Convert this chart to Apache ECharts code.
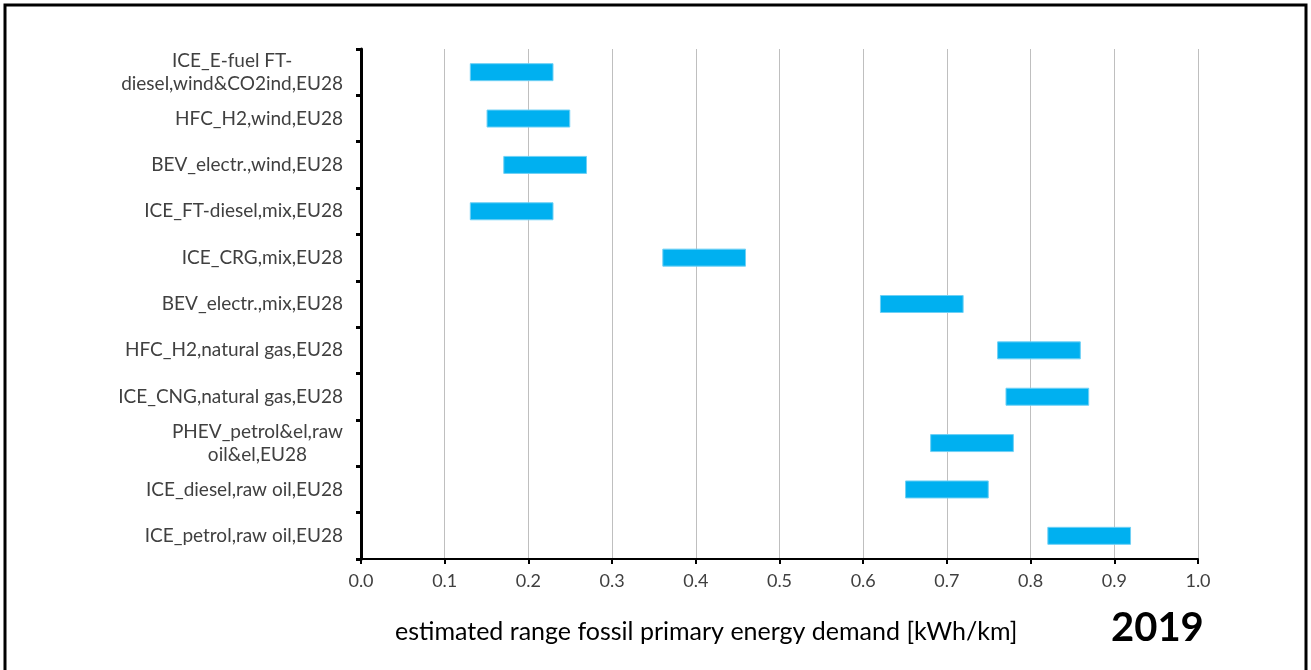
<!DOCTYPE html>
<html>
<head>
<meta charset="UTF-8">
<title>fossil primary energy demand 2019</title>
<script type="text/javascript" src="https://cdn.jsdelivr.net/npm/echarts@6/dist/echarts.min.js"></script>
<style>
  html,body{margin:0;padding:0;background:#fff}
</style>
</head>
<body>
	<div id="main" style="width:1311px;height:670px"></div>
	<script type="text/javascript">
	// categories, top to bottom
	var categories = [
		'ICE_E-fuel FT-\ndiesel,wind&CO2ind,EU28',
		'HFC_H2,wind,EU28',
		'BEV_electr.,wind,EU28',
		'ICE_FT-diesel,mix,EU28',
		'ICE_CRG,mix,EU28',
		'BEV_electr.,mix,EU28',
		'HFC_H2,natural gas,EU28',
		'ICE_CNG,natural gas,EU28',
		'PHEV_petrol&el,raw\noil&el,EU28',
		'ICE_diesel,raw oil,EU28',
		'ICE_petrol,raw oil,EU28'
	];
	// range low / high [kWh/km]
	var lowValues  = [0.13, 0.15, 0.17, 0.13, 0.36, 0.62, 0.76, 0.77, 0.68, 0.65, 0.82];
	var highValues = [0.23, 0.25, 0.27, 0.23, 0.46, 0.72, 0.86, 0.87, 0.78, 0.75, 0.92];
	var xTicks = ['0.0','0.1','0.2','0.3','0.4','0.5','0.6','0.7','0.8','0.9','1.0'];

	var rangeValues = highValues.map(function(h, i){ return +(h - lowValues[i]).toFixed(3); });

	var myEchart = echarts.init(document.getElementById('main'));
	var font = 'Lato';
	var labelStyle = {color:'#404040', fontFamily:font, fontSize:19, lineHeight:23, align:'center'};

	var option = {
		backgroundColor:'#ffffff',
		animation:false,
		grid:{left:361, top:49, right:113, bottom:111, containLabel:false},
		xAxis:{
			type:'value',
			min:0, max:1, interval:0.1,
			axisLine:{show:true, lineStyle:{color:'#000', width:2}},
			axisTick:{show:true, length:5, lineStyle:{color:'#000', width:2}},
			axisLabel:{
				color:'#404040', fontFamily:font, fontSize:18, margin:13,
				formatter:function(v){ return xTicks[Math.round(v*10)]; }
			},
			splitLine:{show:true, lineStyle:{color:'#bfbfbf', width:1}}
		},
		yAxis:{
			type:'category',
			inverse:true,
			data:categories,
			axisLine:{show:true, lineStyle:{color:'#000', width:3}},
			axisTick:{show:true, length:5, lineStyle:{color:'#000', width:3}},
			axisLabel:{
				color:'#404040', fontFamily:font, fontSize:19, margin:18, lineHeight:23,
				// lines of a wrapped label are centred on each other
				formatter:function(v){
					return v.split('\n').map(function(s){ return '{c|' + s + '}'; }).join('\n');
				},
				rich:{c:labelStyle}
			}
		},
		series:[
			{//transparent base
				type:'bar', stack:'r', barWidth:18,
				itemStyle:{color:'transparent'},
				data:lowValues
			},
			{//visible range
				type:'bar', stack:'r', barWidth:18,
				itemStyle:{color:'#00B0F0', borderColor:'#6fd0f5', borderWidth:1},
				data:rangeValues
			}
		],
		graphic:[
			{
				type:'rect', silent:true,
				shape:{x:5, y:5, width:1301, height:700},
				style:{fill:'none', stroke:'#000', lineWidth:3}
			},
			{
				type:'text', left:395, top:619,
				style:{text:'estimated range fossil primary energy demand [kWh/km]', fontFamily:font, fontSize:25, fill:'#000'}
			},
			{
				type:'text', left:1111, top:608,
				style:{text:'2019', fontFamily:font, fontSize:40, fontWeight:'bold', fill:'#000'}
			}
		]
	};

	myEchart.setOption(option);
	</script>
</body>
</html>
